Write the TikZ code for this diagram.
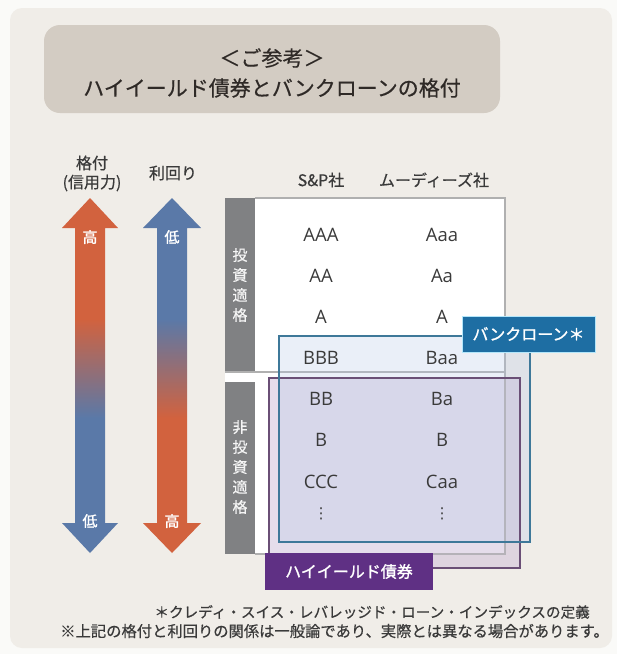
\documentclass[tikz,border=0pt]{standalone}
\usepackage{fontspec}
\setmainfont{Noto Sans CJK JP}
\newfontfamily\cjkb{Noto Sans CJK JP}[FakeBold=1.2]
\newfontfamily\cjkm{Noto Sans CJK JP}[FakeBold=0.5]
\newfontfamily\ratingfont{Open Sans}
\newfontfamily\dejavu{DejaVu Sans}
\definecolor{outerbg}{HTML}{FAFAF8}
\definecolor{panelbg}{HTML}{F0EDE8}
\definecolor{titlebg}{HTML}{D3CCC3}
\definecolor{titletext}{HTML}{2F2A27}
\definecolor{textgray}{HTML}{3A3A3A}
\definecolor{barGray}{HTML}{808183}
\definecolor{arrOrange}{HTML}{D2623E}
\definecolor{arrBlue}{HTML}{5A79A8}
\definecolor{loanBlue}{HTML}{1E6EA3}
\definecolor{loanEdge}{HTML}{3E7899}
\definecolor{loanFill}{HTML}{B4C8E8}
\definecolor{hyPurple}{HTML}{5F3084}
\definecolor{hyEdge}{HTML}{6A4F76}
\definecolor{hyFill}{HTML}{CDBCD8}
\definecolor{tableEdge}{HTML}{B0B0B0}
\pgfdeclareverticalshading{orangetop}{100bp}{color(0bp)=(arrBlue); color(44bp)=(arrBlue); color(58bp)=(arrOrange); color(100bp)=(arrOrange)}
\pgfdeclareverticalshading{bluetop}{100bp}{color(0bp)=(arrOrange); color(44bp)=(arrOrange); color(58bp)=(arrBlue); color(100bp)=(arrBlue)}
\tikzset{
  rating/.style={text=textgray, font=\ratingfont\fontsize{18.5}{20}\selectfont, inner sep=0pt},
  header/.style={text=textgray, font=\cjkm\fontsize{16}{18}\selectfont, inner sep=0pt},
  bartext/.style={text=white!92!gray, font=\cjkm\fontsize{15}{20}\selectfont, align=center, inner sep=0pt},
  arrlabel/.style={text=white, font=\cjkb\fontsize{15}{18}\selectfont, inner sep=0pt},
  tagtext/.style={text=white, font=\cjkb\fontsize{16}{18}\selectfont, inner sep=0pt},
  foot/.style={text=textgray, inner sep=0pt, anchor=east}
}
\begin{document}
\begin{tikzpicture}[x=1pt,y=-1pt]
\useasboundingbox (0,0) rectangle (617,654);
\fill[outerbg] (0,0) rectangle (617,654);
\fill[panelbg, rounded corners=12pt] (10,8) rectangle (612,648);
% title
\fill[titlebg, rounded corners=16pt] (44,25) rectangle (500,113);
\node[text=titletext, font=\cjkm\fontsize{21}{24}\selectfont, inner sep=0pt] (t1) at (272,58) {＜ご参考＞};
\node[text=titletext, font=\cjkm\fontsize{21}{24}\selectfont, inner sep=0pt] (t2) at (272,88) {ハイイールド債券とバンクローンの格付};
% column headers
\node[header] (h1) at (92,163) {格付};
\node[header] (h2) at (92,183) {(信用力)};
\node[header] (h3) at (173,173) {利回り};
\node[header] (h4) at (321,180) {S\&P社};
\node[header] (h5) at (434,180) {ムーディーズ社};
% arrows
\shade[shading=orangetop] (90,198) -- (118,228) -- (105,228) -- (105,523) -- (118,523) -- (90,553) -- (62,523) -- (75,523) -- (75,228) -- (62,228) -- cycle;
\shade[shading=bluetop] (172,198) -- (201,228) -- (187,228) -- (187,523) -- (201,523) -- (172,553) -- (143,523) -- (157,523) -- (157,228) -- (143,228) -- cycle;
\node[arrlabel] (a1) at (90,237) {高};
\node[arrlabel] (a2) at (90,521) {低};
\node[arrlabel] (a3) at (172,237) {低};
\node[arrlabel] (a4) at (172,521) {高};
% table
\fill[white] (225,198) rectangle (505,554);
\fill[barGray] (225,198) rectangle (255,372);
\fill[barGray] (225,382) rectangle (255,554);
\draw[tableEdge, line width=1.2pt] (255,198) -- (505,198) -- (505,554) -- (255,554);
\draw[tableEdge, line width=1.2pt] (225,372) -- (505,372);
\node[bartext] (b1) at (240,285) {投\\資\\適\\格};
\node[bartext] (b2) at (240,467) {非\\投\\資\\適\\格};
% overlay fills
\fill[hyFill, opacity=0.5] (269,378) rectangle (520,568);
\fill[loanFill, opacity=0.28] (279,336) rectangle (530,542);
\draw[tableEdge, line width=1.2pt, opacity=0.6] (505,378) -- (505,554) -- (269,554);
% ratings
\node[rating] (s1) at (321,235) {AAA};
\node[rating] (m1) at (442,235) {Aaa};
\node[rating] (s2) at (321,276) {AA};
\node[rating] (m2) at (442,276) {Aa};
\node[rating] (s3) at (321,317) {A};
\node[rating] (m3) at (442,317) {A};
\node[rating] (s4) at (321,358) {BBB};
\node[rating] (m4) at (442,358) {Baa};
\node[rating] (s5) at (321,399) {BB};
\node[rating] (m5) at (442,399) {Ba};
\node[rating] (s6) at (321,440) {B};
\node[rating] (m6) at (442,440) {B};
\node[rating] (s7) at (321,482) {CCC};
\node[rating] (m7) at (442,482) {Caa};
\node[rating, font=\dejavu\fontsize{15}{18}\selectfont] (s8) at (321,514) {⋮};
\node[rating, font=\dejavu\fontsize{15}{18}\selectfont] (m8) at (442,514) {⋮};
% outlines
\draw[hyEdge, line width=2.6pt] (269,378) rectangle (520,568);
\draw[loanEdge, line width=2.2pt] (279,336) rectangle (530,542);
% tags
\node[fill=loanBlue, draw=white!70!cyan, line width=0.8pt, minimum width=133pt, minimum height=36pt, inner sep=0pt] (loantag) at (528.5,334) {};
\node[tagtext] (loantext) at (loantag.center) {バンクローン＊};
\node[fill=hyPurple, minimum width=168pt, minimum height=37pt, inner sep=0pt] (hytag) at (349,571.5) {};
\node[tagtext] (hytext) at (hytag.center) {ハイイールド債券};
% footnotes
\node[foot, font=\cjkm\fontsize{14.6}{17}\selectfont] (f1) at (590,612) {＊クレディ・スイス・レバレッジド・ローン・インデックスの定義};
\node[foot, font=\cjkm\fontsize{15.3}{17}\selectfont] (f2) at (609,631) {※上記の格付と利回りの関係は一般論であり、実際とは異なる場合があります。};
\end{tikzpicture}
\end{document}
